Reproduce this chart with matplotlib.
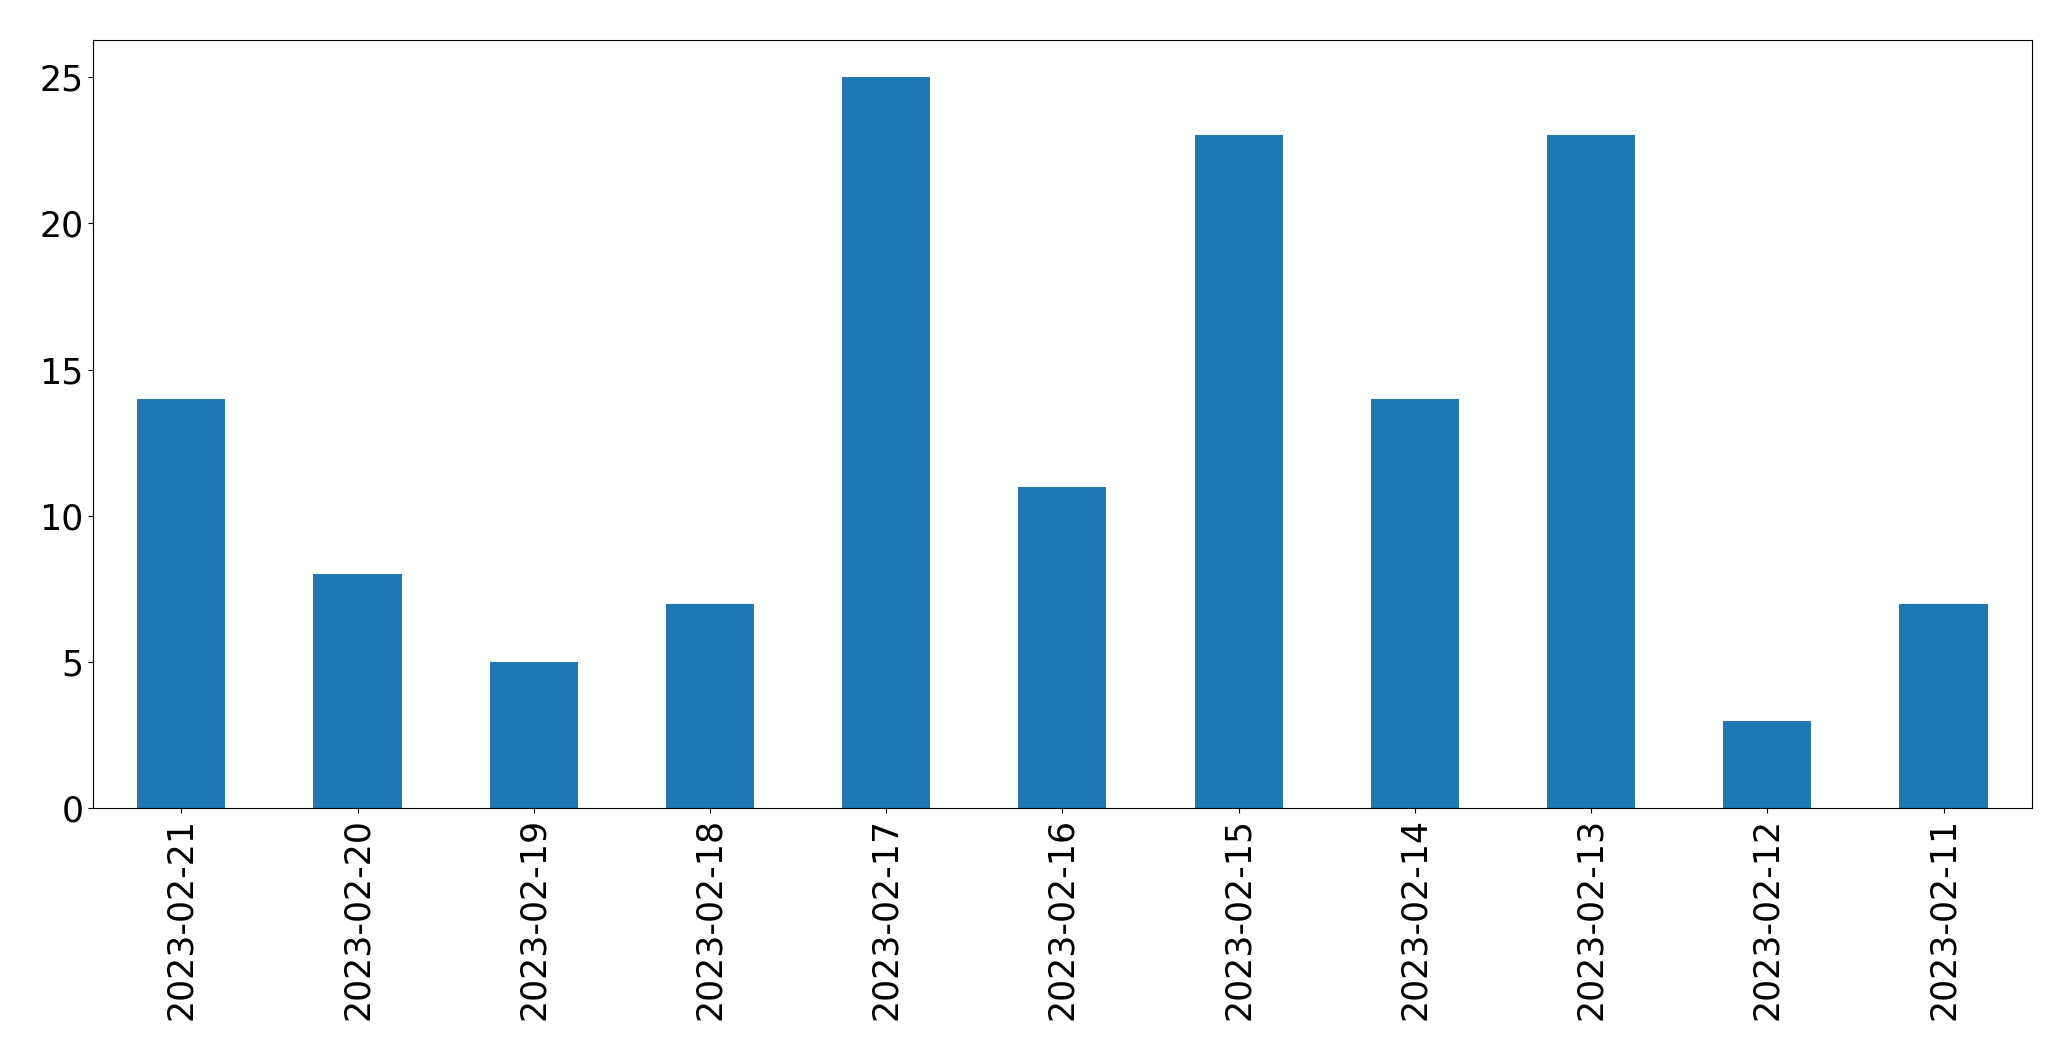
import matplotlib
matplotlib.use("Agg")
import matplotlib.pyplot as plt
import pandas as pd

dates = ["2023-02-21", "2023-02-20", "2023-02-19", "2023-02-18", "2023-02-17",
         "2023-02-16", "2023-02-15", "2023-02-14", "2023-02-13", "2023-02-12",
         "2023-02-11"]
counts = [14, 8, 5, 7, 25, 11, 23, 14, 23, 3, 7]

s = pd.Series(counts, index=dates)
fig, ax = plt.subplots(figsize=(20.71, 10.61), dpi=100)
s.plot.bar(ax=ax, color="#1f77b4", fontsize=25)
fig.subplots_adjust(left=0.045, right=0.981, top=0.962, bottom=0.238)
fig.savefig("out.png", dpi=100)
